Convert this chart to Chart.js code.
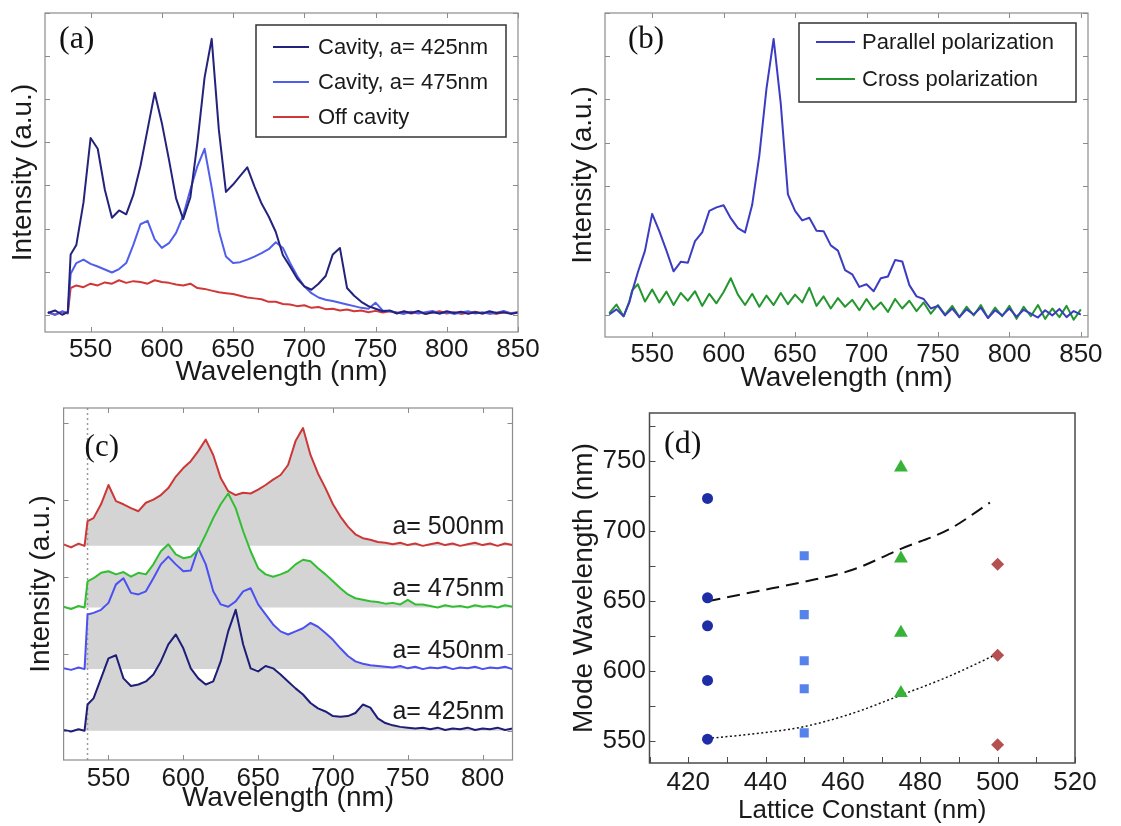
<!DOCTYPE html>
<html>
<head>
<meta charset="utf-8">
<title>Cavity emission spectra</title>
<script src="https://cdn.jsdelivr.net/npm/chart.js@4.4.1/dist/chart.umd.min.js"></script>
<style>
  html, body { margin: 0; padding: 0; background: #fff; }
  #figure { position: relative; width: 1121px; height: 826px; }
  #figure canvas { position: absolute; }
</style>
</head>
<body>
<div id="figure">
  <canvas id="panelA" width="545" height="400" style="left:0;top:0"></canvas>
  <canvas id="panelB" width="561" height="400" style="left:560px;top:0"></canvas>
  <canvas id="panelC" width="545" height="426" style="left:0;top:400px"></canvas>
  <canvas id="panelD" width="561" height="426" style="left:560px;top:400px"></canvas>
</div>
<script>
// ---- spectra (a), (b): wavelength grid in nm ----
const wavelengthAB = [520, 525, 530, 534, 536, 540, 545, 550, 555, 560,
  565, 570, 575, 580, 585, 590, 595, 600, 605, 610,
  615, 620, 625, 630, 635, 640, 645, 650, 655, 660,
  665, 670, 675, 680, 685, 690, 695, 700, 705, 710,
  715, 720, 725, 730, 735, 740, 745, 750, 755, 760,
  765, 770, 775, 780, 785, 790, 795, 800, 805, 810,
  815, 820, 825, 830, 835, 840, 845, 850];

const cavity425 = [0.04, 0.10, 0.00, 0.06, 1.40, 1.62, 2.60, 4.10, 3.85, 2.90,
  2.25, 2.42, 2.33, 2.78, 3.45, 4.30, 5.15, 4.45, 3.60, 2.70,
  2.22, 2.72, 4.00, 5.50, 6.40, 4.30, 2.85, 3.02, 3.22, 3.42,
  2.98, 2.58, 2.28, 1.92, 1.38, 1.12, 0.84, 0.66, 0.58, 0.72,
  0.90, 1.40, 1.55, 0.62, 0.44, 0.30, 0.20, 0.14, 0.08, 0.10,
  0.03, 0.08, 0.04, 0.09, 0.02, 0.06, 0.03, 0.08, 0.04, 0.07,
  0.02, 0.06, 0.03, 0.08, 0.04, 0.06, 0.02, 0.05];

const cavity475 = [0.06, 0.00, 0.08, 0.04, 0.95, 1.20, 1.28, 1.18, 1.12, 1.05,
  0.98, 1.06, 1.20, 1.62, 2.10, 2.18, 1.75, 1.55, 1.66, 1.90,
  2.30, 2.90, 3.45, 3.85, 2.95, 1.95, 1.35, 1.20, 1.22, 1.28,
  1.35, 1.43, 1.52, 1.68, 1.55, 1.20, 0.90, 0.66, 0.50, 0.40,
  0.35, 0.32, 0.28, 0.24, 0.20, 0.16, 0.14, 0.28, 0.10, 0.08,
  0.05, 0.02, 0.07, 0.03, 0.06, 0.09, 0.03, 0.06, 0.02, 0.05,
  0.08, 0.03, 0.06, 0.02, 0.05, 0.09, 0.03, 0.06];

const offCavity = [0.05, 0.00, 0.07, 0.03, 0.62, 0.68, 0.64, 0.72, 0.68, 0.75,
  0.72, 0.80, 0.74, 0.78, 0.76, 0.72, 0.80, 0.76, 0.74, 0.70,
  0.68, 0.72, 0.62, 0.60, 0.56, 0.52, 0.50, 0.48, 0.44, 0.40,
  0.38, 0.36, 0.30, 0.30, 0.25, 0.24, 0.20, 0.22, 0.16, 0.18,
  0.13, 0.14, 0.10, 0.12, 0.08, 0.10, 0.06, 0.09, 0.05, 0.08,
  0.04, 0.07, 0.03, 0.06, 0.02, 0.05, 0.08, 0.03, 0.06, 0.02,
  0.05, 0.07, 0.03, 0.05, 0.02, 0.06, 0.04, 0.05];

const parallelPol = [0.02, 0.14, -0.02, 0.30, 0.55, 1.00, 1.50, 2.35, 1.95, 1.50,
  1.02, 1.24, 1.22, 1.72, 1.92, 2.42, 2.50, 2.55, 2.25, 2.02,
  1.92, 2.56, 3.70, 5.25, 6.40, 4.90, 2.80, 2.42, 2.20, 2.26,
  1.96, 1.95, 1.62, 1.50, 1.05, 0.95, 0.66, 0.72, 0.56, 0.86,
  0.90, 1.28, 1.25, 0.70, 0.44, 0.38, 0.16, 0.22, 0.00, 0.16,
  -0.04, 0.14, 0.02, 0.18, -0.06, 0.12, 0.00, 0.16, -0.03, 0.13,
  0.04, -0.05, 0.12, 0.00, 0.15, -0.04, 0.10, 0.02];

const crossPol = [0.05, 0.25, -0.02, 0.32, 0.58, 0.72, 0.32, 0.60, 0.30, 0.55,
  0.24, 0.52, 0.34, 0.56, 0.22, 0.50, 0.28, 0.54, 0.86, 0.48,
  0.24, 0.50, 0.20, 0.46, 0.24, 0.52, 0.26, 0.48, 0.30, 0.64,
  0.22, 0.44, 0.16, 0.40, 0.20, 0.36, 0.12, 0.38, 0.14, 0.30,
  0.08, 0.38, 0.16, 0.34, 0.10, 0.30, 0.04, 0.24, 0.02, 0.22,
  -0.04, 0.20, 0.00, 0.24, -0.06, 0.18, -0.02, 0.22, -0.08, 0.20,
  -0.02, 0.24, -0.08, 0.16, -0.04, 0.22, -0.10, 0.14];

const wavelengthTicksAB = [550, 600, 650, 700, 750, 800, 850];
const intensityTicksAB = [0, 1, 2, 3, 4, 5, 6, 7];

// ---- stacked spectra (c), each sitting on its own baseline ----
const wavelengthC = [520, 525, 530, 534, 536, 540, 545, 550, 555, 560,
  565, 570, 575, 580, 585, 590, 595, 600, 605, 610,
  615, 620, 625, 630, 635, 640, 645, 650, 655, 660,
  665, 670, 675, 680, 685, 690, 695, 700, 705, 710,
  715, 720, 725, 730, 735, 740, 745, 750, 755, 760,
  765, 770, 775, 780, 785, 790, 795, 800, 805, 810,
  815, 820];

const stackA500 = [2.42, 2.38, 2.43, 2.40, 2.72, 2.76, 2.94, 3.19, 2.98, 2.94,
  2.89, 2.85, 2.96, 3.00, 3.06, 3.15, 3.30, 3.41, 3.50, 3.63,
  3.78, 3.58, 3.28, 3.11, 3.06, 3.09, 3.08, 3.13, 3.19, 3.26,
  3.32, 3.45, 3.76, 3.93, 3.58, 3.34, 3.15, 2.94, 2.78, 2.65,
  2.55, 2.50, 2.48, 2.45, 2.44, 2.42, 2.44, 2.41, 2.43, 2.40,
  2.42, 2.44, 2.41, 2.43, 2.40, 2.42, 2.44, 2.41, 2.43, 2.40,
  2.43, 2.41];

const stackA475 = [1.61, 1.58, 1.62, 1.60, 1.94, 1.98, 2.05, 2.07, 2.03, 2.06,
  2.00, 2.05, 2.03, 2.16, 2.33, 2.42, 2.29, 2.24, 2.26, 2.35,
  2.55, 2.76, 2.94, 3.08, 2.89, 2.59, 2.33, 2.11, 2.03, 2.00,
  2.03, 2.07, 2.16, 2.22, 2.20, 2.11, 2.03, 1.94, 1.85, 1.77,
  1.72, 1.70, 1.68, 1.67, 1.65, 1.66, 1.64, 1.70, 1.64, 1.64,
  1.62, 1.60, 1.63, 1.61, 1.62, 1.60, 1.63, 1.61, 1.62, 1.60,
  1.63, 1.61];

const stackA450 = [0.81, 0.79, 0.82, 0.80, 1.51, 1.53, 1.57, 1.66, 1.90, 1.98,
  1.79, 1.77, 1.81, 1.98, 2.16, 2.26, 2.16, 2.07, 2.08, 2.37,
  2.16, 1.81, 1.64, 1.61, 1.68, 1.81, 1.85, 1.64, 1.51, 1.38,
  1.29, 1.25, 1.29, 1.33, 1.40, 1.35, 1.27, 1.18, 1.07, 0.97,
  0.90, 0.87, 0.85, 0.84, 0.83, 0.82, 0.84, 0.81, 0.83, 0.80,
  0.82, 0.81, 0.83, 0.80, 0.82, 0.81, 0.83, 0.80, 0.82, 0.81,
  0.83, 0.80];

const stackA425 = [0.01, -0.01, 0.02, 0.00, 0.34, 0.42, 0.68, 0.94, 0.98, 0.68,
  0.58, 0.60, 0.64, 0.73, 0.90, 1.12, 1.25, 1.07, 0.81, 0.68,
  0.60, 0.64, 0.90, 1.29, 1.57, 1.12, 0.81, 0.77, 0.84, 0.81,
  0.73, 0.64, 0.55, 0.47, 0.36, 0.29, 0.25, 0.19, 0.18, 0.19,
  0.23, 0.34, 0.30, 0.16, 0.10, 0.07, 0.05, 0.04, 0.03, 0.04,
  0.02, 0.04, 0.01, 0.03, 0.02, 0.04, 0.01, 0.03, 0.02, 0.04,
  0.01, 0.03];

const stackNames = ['a= 500nm', 'a= 475nm', 'a= 450nm', 'a= 425nm'];
const stackBaselines = [2.4, 1.6, 0.8, 0];
const filterEdge = 536;
const wavelengthTicksC = [550, 600, 650, 700, 750, 800];
const intensityTicksC = [0, 1, 2, 3, 4];

// ---- mode positions (d) ----
const modes425 = [723, 652, 632, 593, 551];
const modes450 = [682, 640, 607, 587, 555.5];
const modes475 = [745, 680, 627, 584];
const modes500 = [676, 611, 547];
const upperFitX = [425, 437.5, 450, 462.5, 475, 487.5, 498];
const upperFitY = [649.5, 656.5, 663.5, 672, 687, 701, 720];
const lowerFitX = [425, 437.5, 450, 462.5, 475, 487.5, 500];
const lowerFitY = [551.5, 555, 560, 569.5, 582.5, 596, 612];
const latticeTicks = [420, 440, 460, 480, 500, 520];
const modeTicks = [550, 600, 650, 700, 750];

const SANS = "'Liberation Sans', Arial, Helvetica, sans-serif";
const SERIF = "'Liberation Serif', 'Times New Roman', serif";
const INK = '#1a1a1a';
Chart.defaults.font.family = SANS;
Chart.defaults.color = INK;

const points = (xs, ys) => xs.map((x, i) => ({ x: x, y: ys[i] }));

function stepValues(scale, step) {
  const out = [];
  for (let v = Math.ceil(scale.min / step) * step; v <= scale.max + 1e-9; v += step) out.push(v);
  return out;
}

// plot frame plus inward tick marks
const frameTicks = {
  id: 'frameTicks',
  afterDatasetsDraw(chart, args, o) {
    const { ctx, chartArea: a } = chart;
    const xs = chart.scales.x, ys = chart.scales.y;
    const xv = o.xMinor ? stepValues(xs, o.xMinor) : xs.ticks.map(t => t.value);
    const yv = o.yMinor ? stepValues(ys, o.yMinor) : ys.ticks.map(t => t.value);
    ctx.save();
    ctx.strokeStyle = o.tickColor;
    ctx.lineWidth = 1;
    ctx.beginPath();
    xv.forEach(v => {
      const px = Math.round(xs.getPixelForValue(v)) + 0.5;
      if (o.sides.includes('bottom')) { ctx.moveTo(px, a.bottom); ctx.lineTo(px, a.bottom - o.len); }
      if (o.sides.includes('top')) { ctx.moveTo(px, a.top); ctx.lineTo(px, a.top + o.len); }
    });
    yv.forEach(v => {
      const py = Math.round(ys.getPixelForValue(v)) + 0.5;
      if (o.sides.includes('left')) { ctx.moveTo(a.left, py); ctx.lineTo(a.left + o.len, py); }
      if (o.sides.includes('right')) { ctx.moveTo(a.right, py); ctx.lineTo(a.right - o.len, py); }
    });
    ctx.stroke();
    ctx.strokeStyle = o.color;
    ctx.lineWidth = o.width;
    ctx.strokeRect(a.left, a.top, a.right - a.left, a.bottom - a.top);
    ctx.restore();
  }
};

// "(a)" style panel letter
const panelTag = {
  id: 'panelTag',
  afterDraw(chart, args, o) {
    const { ctx, chartArea: a } = chart;
    ctx.save();
    ctx.font = o.size + 'px ' + SERIF;
    ctx.fillStyle = '#111';
    ctx.textAlign = 'left';
    ctx.textBaseline = 'middle';
    ctx.fillText(o.text, a.left + o.dx, a.top + o.dy);
    ctx.restore();
  }
};

// boxed legend drawn inside the plot
const boxLegend = {
  id: 'boxLegend',
  afterDraw(chart, args, o) {
    const { ctx } = chart;
    ctx.save();
    ctx.fillStyle = '#fff';
    ctx.fillRect(o.x, o.y, o.w, o.h);
    ctx.strokeStyle = '#333';
    ctx.lineWidth = 1.5;
    ctx.strokeRect(o.x, o.y, o.w, o.h);
    ctx.font = o.size + 'px ' + SANS;
    ctx.textAlign = 'left';
    ctx.textBaseline = 'middle';
    chart.data.datasets.forEach((ds, i) => {
      const y = o.rowY + i * o.rowGap;
      ctx.strokeStyle = ds.borderColor;
      ctx.lineWidth = 2.2;
      ctx.beginPath();
      ctx.moveTo(o.lineX, y);
      ctx.lineTo(o.lineX + o.lineLen, y);
      ctx.stroke();
      ctx.fillStyle = INK;
      ctx.fillText(ds.label, o.textX, y + 1);
    });
    ctx.restore();
  }
};

// names beside each stacked trace and the filter cut-off marker
const stackMarks = {
  id: 'stackMarks',
  beforeDatasetsDraw(chart, args, o) {
    const { ctx, chartArea: a } = chart;
    const px = chart.scales.x.getPixelForValue(filterEdge);
    ctx.save();
    ctx.strokeStyle = '#9a9a9a';
    ctx.lineWidth = 1.5;
    ctx.setLineDash([2, 3]);
    ctx.beginPath();
    ctx.moveTo(px, a.top);
    ctx.lineTo(px, a.bottom);
    ctx.stroke();
    ctx.restore();
  },
  afterDatasetsDraw(chart, args, o) {
    const { ctx } = chart;
    const xs = chart.scales.x, ys = chart.scales.y;
    ctx.save();
    ctx.font = o.size + 'px ' + SANS;
    ctx.fillStyle = INK;
    ctx.textAlign = 'right';
    ctx.textBaseline = 'middle';
    stackNames.forEach((name, i) => {
      ctx.fillText(name, xs.getPixelForValue(o.at), ys.getPixelForValue(stackBaselines[i] + o.lift));
    });
    ctx.restore();
  }
};

function wavelengthScales(c) {
  return {
    x: {
      type: 'linear', min: c.xMin, max: c.xMax,
      afterBuildTicks: s => { s.ticks = c.xTicks.map(v => ({ value: v })); },
      afterFit: s => { s.height = c.xHeight; },
      grid: { display: false }, border: { display: false },
      ticks: { font: { size: 26 }, color: INK, padding: c.tickPad, maxRotation: 0, autoSkip: false },
      title: { display: true, text: 'Wavelength (nm)', color: INK, font: { size: 28 }, padding: { top: 0, bottom: c.xTitlePad } }
    },
    y: {
      min: c.yMin, max: c.yMax,
      afterBuildTicks: s => { s.ticks = c.yTicks.map(v => ({ value: v })); },
      afterFit: s => { s.width = c.yWidth; },
      grid: { display: false }, border: { display: false },
      ticks: { display: false },
      title: { display: true, text: 'Intensity (a.u.)', color: INK, font: { size: 28 }, padding: { top: c.yTitlePad, bottom: 0 } }
    }
  };
}

function spectrumLine(label, xs, ys, color, extra) {
  return Object.assign({
    label: label, data: points(xs, ys), borderColor: color, backgroundColor: color,
    borderWidth: 2, pointRadius: 0, tension: 0, fill: false
  }, extra || {});
}

const baseOptions = {
  responsive: false, animation: false, events: [],
  elements: { line: { borderJoinStyle: 'round' } }
};

// (a) cavity vs. off-cavity emission
new Chart(document.getElementById('panelA'), {
  type: 'line',
  data: {
    datasets: [
      spectrumLine('Cavity, a= 425nm', wavelengthAB, cavity425, 'rgb(35,35,125)'),
      spectrumLine('Cavity, a= 475nm', wavelengthAB, cavity475, 'rgb(80,95,235)'),
      spectrumLine('Off cavity', wavelengthAB, offCavity, 'rgb(210,55,55)')
    ]
  },
  options: Object.assign({}, baseOptions, {
    layout: { padding: { top: 13, right: 27, left: 0, bottom: 0 } },
    plugins: {
      legend: { display: false }, tooltip: { enabled: false },
      frameTicks: { color: '#8c8c8c', width: 1.2, tickColor: '#8c8c8c', len: 5, sides: ['bottom', 'top', 'left', 'right'] },
      panelTag: { text: '(a)', size: 32, dx: 14, dy: 27 },
      boxLegend: { x: 256, y: 25, w: 250, h: 112, rowY: 47, rowGap: 35, lineX: 273, lineLen: 36, textX: 318, size: 22 }
    },
    scales: wavelengthScales({ xMin: 518, xMax: 850, xTicks: wavelengthTicksAB, xHeight: 68, tickPad: -6, xTitlePad: 11,
      yMin: -0.4, yMax: 7, yTicks: intensityTicksAB, yWidth: 45, yTitlePad: 6 })
  }),
  plugins: [frameTicks, panelTag, boxLegend]
});

// (b) polarization dependence
new Chart(document.getElementById('panelB'), {
  type: 'line',
  data: {
    datasets: [
      spectrumLine('Parallel polarization', wavelengthAB, parallelPol, 'rgb(60,60,195)'),
      spectrumLine('Cross polarization', wavelengthAB, crossPol, 'rgb(35,150,45)')
    ]
  },
  options: Object.assign({}, baseOptions, {
    layout: { padding: { top: 13, right: 33, left: 0, bottom: 0 } },
    plugins: {
      legend: { display: false }, tooltip: { enabled: false },
      frameTicks: { color: '#8c8c8c', width: 1.2, tickColor: '#8c8c8c', len: 5, sides: ['bottom', 'top', 'left', 'right'] },
      panelTag: { text: '(b)', size: 31, dx: 23, dy: 27 },
      boxLegend: { x: 239, y: 23, w: 277, h: 79, rowY: 42, rowGap: 37, lineX: 256, lineLen: 39, textX: 302, size: 22 }
    },
    scales: wavelengthScales({ xMin: 517, xMax: 855, xTicks: wavelengthTicksAB, xHeight: 63, tickPad: -6, xTitlePad: 5,
      yMin: -0.5, yMax: 7, yTicks: intensityTicksAB, yWidth: 45, yTitlePad: 6 })
  }),
  plugins: [frameTicks, panelTag, boxLegend]
});

// (c) stacked spectra for each lattice constant
const stackFill = '#d4d4d4';
new Chart(document.getElementById('panelC'), {
  type: 'line',
  data: {
    datasets: [
      spectrumLine(stackNames[0], wavelengthC, stackA500, 'rgb(205,55,55)', { fill: { value: stackBaselines[0] }, backgroundColor: stackFill }),
      spectrumLine(stackNames[1], wavelengthC, stackA475, 'rgb(50,190,50)', { fill: { value: stackBaselines[1] }, backgroundColor: stackFill }),
      spectrumLine(stackNames[2], wavelengthC, stackA450, 'rgb(75,80,240)', { fill: { value: stackBaselines[2] }, backgroundColor: stackFill }),
      spectrumLine(stackNames[3], wavelengthC, stackA425, 'rgb(30,30,120)', { fill: { value: stackBaselines[3] }, backgroundColor: stackFill })
    ]
  },
  options: Object.assign({}, baseOptions, {
    layout: { padding: { top: 8, right: 32.5, left: 0, bottom: 0 } },
    plugins: {
      legend: { display: false }, tooltip: { enabled: false },
      filler: { drawTime: 'beforeDatasetsDraw' },
      frameTicks: { color: '#8c8c8c', width: 1.2, tickColor: '#8c8c8c', len: 5, sides: ['bottom', 'top', 'left', 'right'] },
      panelTag: { text: '(c)', size: 31, dx: 21, dy: 40 },
      stackMarks: { at: 814.5, lift: 0.24, size: 25 }
    },
    scales: wavelengthScales({ xMin: 520, xMax: 820, xTicks: wavelengthTicksC, xHeight: 66, tickPad: -5, xTitlePad: 11,
      yMin: -0.38, yMax: 4.19, yTicks: intensityTicksC, yWidth: 63.6, yTitlePad: 24 })
  }),
  plugins: [stackMarks, frameTicks, panelTag]
});

// (d) mode wavelength against lattice constant
const modeSet = (label, lattice, modes, style, color, radius) => ({
  label: label, data: modes.map(m => ({ x: lattice, y: m })),
  pointStyle: style, pointRadius: radius, pointBackgroundColor: color, pointBorderColor: color,
  pointBorderWidth: 0, showLine: false
});
new Chart(document.getElementById('panelD'), {
  type: 'scatter',
  data: {
    datasets: [
      modeSet('a=425nm', 425, modes425, 'circle', 'rgb(30,45,165)', 5.5),
      modeSet('a=450nm', 450, modes450, 'rect', 'rgb(85,130,235)', 6.4),
      modeSet('a=475nm', 475, modes475, 'triangle', 'rgb(55,180,55)', 8),
      modeSet('a=500nm', 500, modes500, 'rectRot', 'rgb(180,80,80)', 6.5),
      { label: 'upper band', data: points(upperFitX, upperFitY), showLine: true, pointRadius: 0,
        borderColor: '#111', borderWidth: 2, borderDash: [13, 7], cubicInterpolationMode: 'monotone' },
      { label: 'lower band', data: points(lowerFitX, lowerFitY), showLine: true, pointRadius: 0,
        borderColor: '#111', borderWidth: 1.5, borderDash: [2, 2.5], cubicInterpolationMode: 'monotone' }
    ]
  },
  options: Object.assign({}, baseOptions, {
    layout: { padding: { top: 13, right: 46, left: 0, bottom: 0 } },
    plugins: {
      legend: { display: false }, tooltip: { enabled: false },
      frameTicks: { color: '#4a4a4a', width: 1.5, tickColor: '#4a4a4a', len: 6, sides: ['bottom', 'left'], xMinor: 10, yMinor: 25 },
      panelTag: { text: '(d)', size: 32, dx: 14.5, dy: 32 }
    },
    scales: {
      x: {
        type: 'linear', min: 410, max: 520,
        afterBuildTicks: s => { s.ticks = latticeTicks.map(v => ({ value: v })); },
        afterFit: s => { s.height = 63; },
        grid: { display: false }, border: { display: false },
        ticks: { font: { size: 26 }, color: INK, padding: -4, maxRotation: 0, autoSkip: false },
        title: { display: true, text: 'Lattice Constant (nm)', color: INK, font: { size: 26 }, padding: { top: 0, bottom: 0 } }
      },
      y: {
        min: 534, max: 784,
        afterBuildTicks: s => { s.ticks = modeTicks.map(v => ({ value: v })); },
        afterFit: s => { s.width = 89.5; },
        grid: { display: false }, border: { display: false },
        ticks: { font: { size: 26 }, color: INK, padding: -4.5 },
        title: { display: true, text: 'Mode Wavelength (nm)', color: INK, font: { size: 28 }, padding: { top: 7, bottom: 0 } }
      }
    }
  }),
  plugins: [frameTicks, panelTag]
});
</script>
</body>
</html>
